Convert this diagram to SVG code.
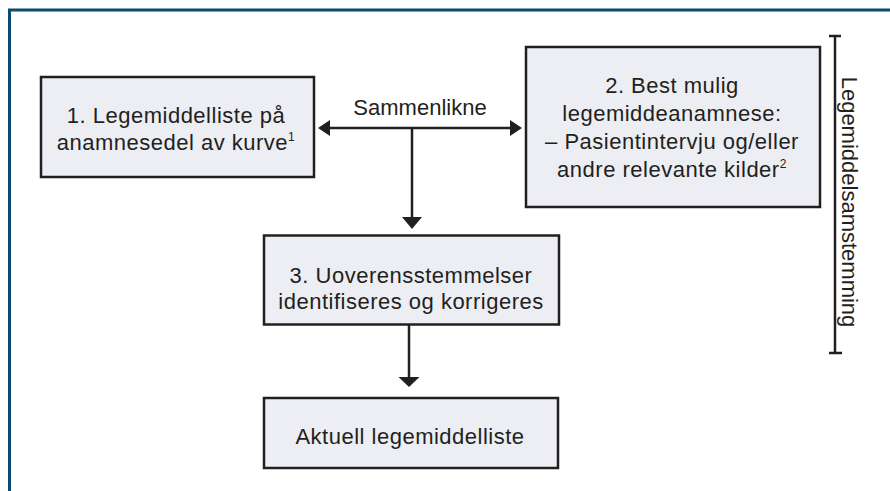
<svg xmlns="http://www.w3.org/2000/svg" width="890" height="491" viewBox="0 0 890 491">
<style>
.box{fill:#eceef3;stroke:#231f20;stroke-width:2.5}
.t{font-family:"Liberation Sans",Arial,sans-serif;font-size:22px;fill:#231f20;text-anchor:middle}
.ln{stroke:#231f20;stroke-width:2.5;fill:none}
.hd{fill:#231f20}
</style>
<rect width="890" height="491" fill="#ffffff"/>
<path d="M9.5,491 V10 H890" fill="none" stroke="#0e4a6e" stroke-width="3"/>
<g id="node1">
<rect class="box" x="41" y="77" width="273" height="100"/>
<text class="t" x="176" y="123" letter-spacing="0.5">1. Legemiddelliste på</text>
<text class="t" x="176" y="150" letter-spacing="0.5">anamnesedel av kurve<tspan font-size="12" dy="-9">1</tspan></text>
</g>
<g id="node2">
<rect class="box" x="526" y="47" width="294" height="160"/>
<text class="t" x="672" y="93" letter-spacing="0.5">2. Best mulig</text>
<text class="t" x="672" y="121" letter-spacing="0.5">legemiddeanamnese:</text>
<text class="t" x="672" y="149" letter-spacing="0.5">– Pasientintervju og/eller</text>
<text class="t" x="672" y="177" letter-spacing="0.5">andre relevante kilder<tspan font-size="12" dy="-9">2</tspan></text>
</g>
<g id="node3">
<rect class="box" x="264" y="235.5" width="295" height="89"/>
<text class="t" x="411" y="283" letter-spacing="0.5">3. Uoverensstemmelser</text>
<text class="t" x="411" y="309" letter-spacing="0.5">identifiseres og korrigeres</text>
</g>
<g id="node4">
<rect class="box" x="264" y="398" width="294" height="70"/>
<text class="t" x="410" y="444" letter-spacing="0.5">Aktuell legemiddelliste</text>
</g>
<g id="bracket">
<path class="ln" d="M835,36 V353 M829,36 H841 M829,353 H842" stroke-width="2.2"/>
<text class="t" transform="translate(842,202) rotate(90)" x="0" y="0">Legemiddelsamstemming</text>
</g>
<g id="connectors">
<text class="t" x="420" y="115">Sammenlikne</text>
<line class="ln" x1="328" y1="128" x2="512" y2="128"/>
<polygon class="hd" points="318,128 330,120 330,136"/>
<polygon class="hd" points="522,128 510,120 510,136"/>
<line class="ln" x1="412" y1="128" x2="412" y2="220"/>
<polygon class="hd" points="402,217 422,217 412,229"/>
<line class="ln" x1="409" y1="324" x2="409" y2="380"/>
<polygon class="hd" points="398.5,377 419.5,377 409,387"/>
</g>
</svg>
